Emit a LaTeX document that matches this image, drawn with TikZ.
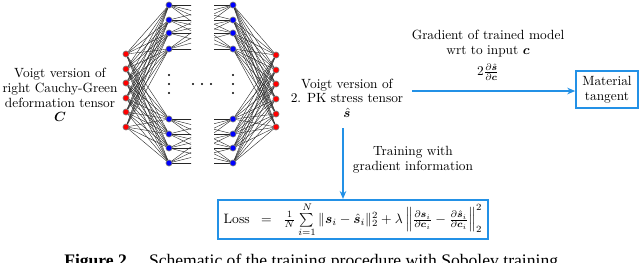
\documentclass[tikz,border=0pt]{standalone}
\usepackage{amsmath}
\usepackage{bm}
\usepackage{graphicx}
\usepackage{fontspec}
\newfontfamily\capfont{Liberation Serif}
\usetikzlibrary{arrows.meta,backgrounds}
\definecolor{myblue}{RGB}{35,145,230}
\begin{document}
\begin{tikzpicture}[x=0.75pt,y=-0.75pt,
  neuR/.style={circle,fill=red,draw=gray,line width=0.5pt,inner sep=0pt,minimum size=4.6pt},
  neuB/.style={circle,fill=blue,draw=gray,line width=0.5pt,inner sep=0pt,minimum size=4.6pt},
  edge/.style={black!85,line width=0.3pt},
  dotn/.style={circle,fill=black,inner sep=0pt,minimum size=1.6pt},
  lbl/.style={align=center,inner sep=0pt,font=\fontsize{10}{11}\selectfont},
  bluebox/.style={draw=myblue,line width=1.2pt,align=center,inner sep=2pt,font=\fontsize{10}{11}\selectfont},
  bluearrow/.style={draw=myblue,line width=0.8pt,-{Stealth[length=6pt,width=5pt]}}]
\useasboundingbox (0,0) rectangle (640,262);
% neurons
\foreach \y [count=\i] in {54,69,83,98,112,127} \node[neuR] (in\i) at (126,\y) {};
\foreach \y [count=\i] in {5,20,33,49,119,134,148,163} {
  \node[neuB] (ha\i) at (169,\y) {};
  \node[neuB] (hb\i) at (233,\y) {};
  \coordinate (va\i) at (229,\y);
  \coordinate (vb\i) at (173,\y);
}
\foreach \y [count=\i] in {55,70,84,99,114,127} \node[neuR] (out\i) at (276,\y) {};
% edges
\begin{pgfonlayer}{background}
\foreach \i in {1,...,6} \foreach \j in {1,...,8} {
  \draw[edge] (in\i.center) -- (ha\j.center);
  \draw[edge] (hb\j.center) -- (out\i.center);
}
\begin{scope}
  \clip (160,0) rectangle (191,170);
  \foreach \i in {1,...,4} \foreach \j in {1,...,4} \draw[edge] (ha\i.center) -- (va\j);
  \foreach \i in {5,...,8} \foreach \j in {5,...,8} \draw[edge] (ha\i.center) -- (va\j);
\end{scope}
\begin{scope}
  \clip (214,0) rectangle (240,170);
  \foreach \i in {1,...,4} \foreach \j in {1,...,4} \draw[edge] (vb\i) -- (hb\j.center);
  \foreach \i in {5,...,8} \foreach \j in {5,...,8} \draw[edge] (vb\i) -- (hb\j.center);
\end{scope}
\end{pgfonlayer}
% ellipsis dots
\foreach \y [count=\k] in {75,84,93} {
  \node[dotn] (da\k) at (169,\y) {};
  \node[dotn] (db\k) at (233,\y) {};
}
\foreach \x [count=\k] in {193,202,211} \node[dotn] (dh\k) at (\x,84) {};
% texts
\node[lbl] (cin) at (60,95) {Voigt version of\\right Cauchy-Green\\deformation tensor\\$\bm{C}$};
\node[lbl] (sout) at (347,98) {Voigt version of\\2. PK stress tensor\\$\hat{\bm{s}}$};
\node[lbl] (grad) at (488,55) {Gradient of trained model\\wrt to input $\bm{c}$\\[5pt]$2\frac{\partial\hat{\bm{s}}}{\partial\bm{c}}$};
\node[lbl] (train) at (413,160) {Training with\\gradient information};
\node[bluebox,minimum width=46.5pt,minimum height=27.75pt] (mt) at (607,89.5) {Material\\tangent};
\node[bluebox,minimum width=202.5pt,minimum height=29pt] (loss) at (353,219.5)
  {\resizebox{194pt}{!}{$\text{Loss}\;\;=\;\;\frac{1}{N}\sum\limits_{i=1}^{N}\|\bm{s}_i-\hat{\bm{s}}_i\|_2^2+\lambda\left\|\frac{\partial\bm{s}_i}{\partial\bm{c}_i}-\frac{\partial\hat{\bm{s}}_i}{\partial\bm{c}_i}\right\|_2^2$}};
% arrows
\coordinate (hs) at (412,91);
\coordinate (vs) at (343,128);
\draw[bluearrow] (hs) -- (hs -| mt.west);
\draw[bluearrow] (vs) -- (vs |- loss.north);
% caption (cut off)
\begin{scope}
  \clip (0,0) rectangle (640,262);
  \node[anchor=base west,inner sep=0pt,font=\capfont\fontsize{13.2}{15}\selectfont] (cap) at (64,266)
    {\textbf{Figure 2.}\quad Schematic of the training procedure with Sobolev training};
\end{scope}
\end{tikzpicture}
\end{document}
